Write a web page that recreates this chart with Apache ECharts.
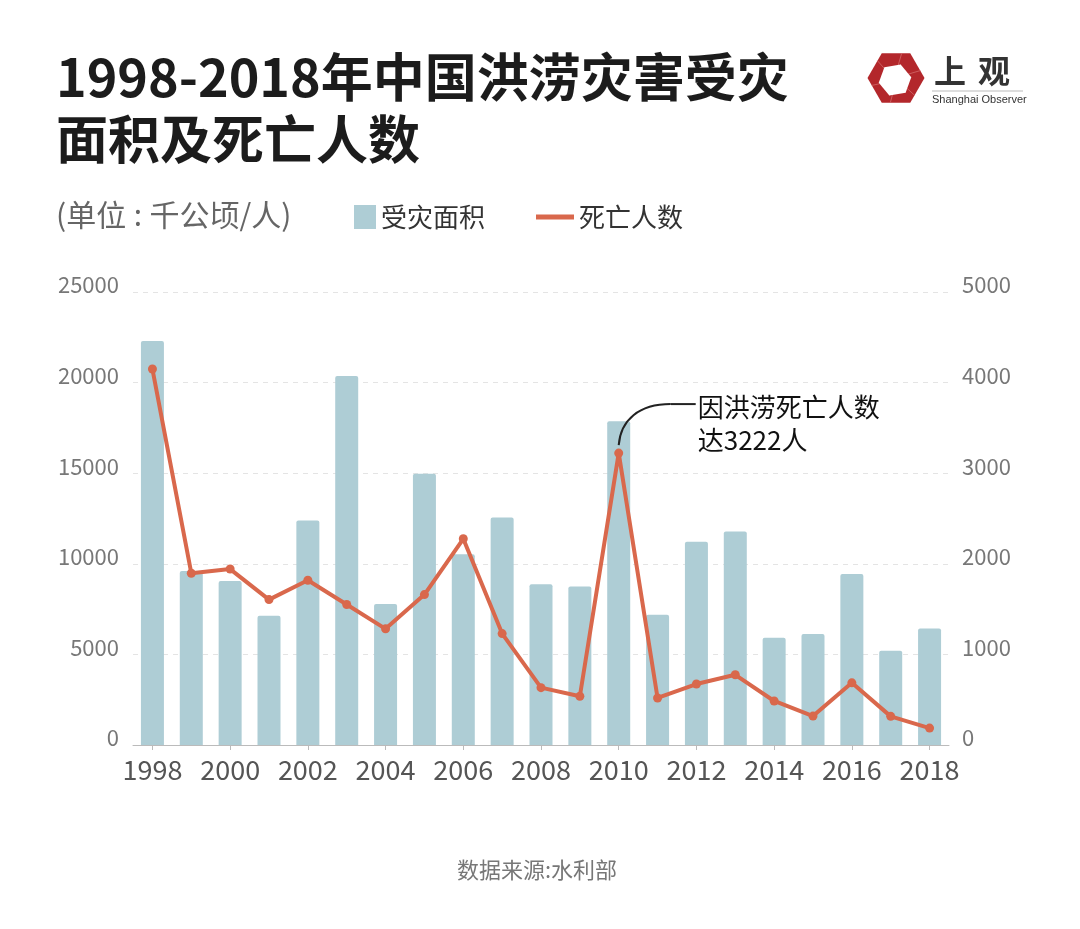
<!DOCTYPE html>
<html><head><meta charset="utf-8">
<script src="https://cdn.jsdelivr.net/npm/echarts@6/dist/echarts.min.js"></script>
<style>html,body{margin:0;padding:0;background:#fff}#c{width:1080px;height:929px}</style>
</head><body><div id="c"></div>
<script>
// ---- data ----
const years = ['1998','1999','2000','2001','2002','2003','2004','2005','2006','2007','2008','2009','2010','2011','2012','2013','2014','2015','2016','2017','2018'];
const affectedArea = [22292,9605,9045,7138,12384,20366,7782,14967,10522,12549,8867,8748,17867,7192,11218,11777,5919,6132,9443,5197,6427];
const deaths = [4150,1896,1942,1605,1819,1551,1282,1660,2276,1230,633,538,3222,519,673,775,486,319,686,316,187];
const areaTicks = [0,5000,10000,15000,20000,25000];
const deathTicks = [0,1000,2000,3000,4000,5000];
const titleText = '1998-2018年中国洪涝灾害受灾\n面积及死亡人数';
const unitText = '(单位\u2005:\u2005千公顷/人)';
const seriesNames = ['受灾面积','死亡人数'];
const noteText = '因洪涝死亡人数\n达3222人';
const noteYear = '2010';
const sourceText = '数据来源:水利部';

const FONT = '"Noto Sans CJK SC","Noto Sans",sans-serif';
const BAR = '#aecdd5';
const RED = '#d9684c';

const chart = echarts.init(document.getElementById('c'), null, {renderer:'canvas'});
chart.setOption({
  backgroundColor:'#fff',
  animation:false,
  textStyle:{fontFamily:FONT},
  title:{
    text:titleText, left:56, top:46, padding:0,
    textStyle:{fontSize:52, fontWeight:'bold', color:'#1c1c1c', lineHeight:62, fontFamily:FONT}
  },
  legend:[
    {data:[{name:seriesNames[0], icon:'rect'}], left:354, top:204, padding:0, itemWidth:22, itemHeight:24, itemGap:0,
     textStyle:{fontSize:26, color:'#333', fontFamily:FONT}, selectedMode:false},
    {data:[{name:seriesNames[1], icon:'rect'}], left:536, top:204, padding:0, itemWidth:38, itemHeight:5, itemGap:0,
     textStyle:{fontSize:26, color:'#333', fontFamily:FONT}, selectedMode:false}
  ],
  grid:{left:133, right:131, top:292, bottom:184, containLabel:false},
  xAxis:{
    type:'category', data:years, boundaryGap:true,
    axisLine:{lineStyle:{color:'#bbb', width:1}},
    axisTick:{show:true, alignWithLabel:true, interval:1, length:5, lineStyle:{color:'#bbb'}},
    axisLabel:{interval:1, fontSize:27, color:'#555', margin:11, fontFamily:FONT}
  },
  yAxis:[
    {type:'value', min:areaTicks[0], max:areaTicks[areaTicks.length-1], interval:areaTicks[1]-areaTicks[0],
     axisLine:{show:false}, axisTick:{show:false},
     axisLabel:{fontSize:22, color:'#777', margin:14, verticalAlign:'bottom', lineHeight:14, formatter:v=>String(v), fontFamily:FONT},
     splitLine:{show:true, lineStyle:{color:'#e4e4e4', type:[5,5], width:1}}},
    {type:'value', min:deathTicks[0], max:deathTicks[deathTicks.length-1], interval:deathTicks[1]-deathTicks[0],
     axisLine:{show:false}, axisTick:{show:false},
     axisLabel:{fontSize:22, color:'#777', margin:13, verticalAlign:'bottom', lineHeight:14, formatter:v=>String(v), fontFamily:FONT},
     splitLine:{show:false}}
  ],
  series:[
    {name:seriesNames[0], type:'bar', data:affectedArea, barWidth:23, yAxisIndex:0,
     itemStyle:{color:BAR, borderRadius:[2,2,0,0]}},
    {name:seriesNames[1], type:'line', data:deaths, yAxisIndex:1, z:5,
     symbol:'circle', symbolSize:9, lineStyle:{color:RED, width:4}, itemStyle:{color:RED}}
  ]
});

const p = chart.convertToPixel({xAxisIndex:0, yAxisIndex:1}, [noteYear, deaths[years.indexOf(noteYear)]]);
const px = p[0], py = p[1];

// logo geometry
const lc = [896, 78], R = 28.5, r = 16.5;
const outer = [], inner = [];
for (let i=0;i<6;i++){ const a = Math.PI/3*i; outer.push([lc[0]+R*Math.cos(a), lc[1]+R*Math.sin(a)]); }
for (let i=0;i<6;i++){ const a = Math.PI/3*i - Math.PI/2 + 0.35; inner.push([lc[0]-1+r*Math.cos(a), lc[1]+2+r*Math.sin(a)]); }
const blades = inner.map((v,i)=>{
  const a = outer[(i+1)%6], b = outer[(i+2)%6];
  const o = [(a[0]*0.3+b[0]*0.7),(a[1]*0.3+b[1]*0.7)];
  return {type:'line', shape:{x1:v[0], y1:v[1], x2:o[0], y2:o[1]}, style:{stroke:'#d26a6a', lineWidth:0.8}, z:101};
});

chart.setOption({
  graphic:[
    {type:'text', style:{text:unitText, x:56, y:215, font:'30px '+FONT, fill:'#666', verticalAlign:'middle'}},
    {type:'text', style:{text:sourceText, x:537, y:870, font:'22px '+FONT, fill:'#777', align:'center', verticalAlign:'middle'}},
    // annotation
    {type:'bezierCurve', shape:{x1:px, y1:py-8, cpx1:px+2, cpy1:py-33, cpx2:px+20, cpy2:py-49, x2:px+52, y2:py-49},
     style:{stroke:'#222', lineWidth:2, fill:null}, z:100},
    {type:'line', shape:{x1:px+52, y1:py-49, x2:px+77, y2:py-49}, style:{stroke:'#222', lineWidth:2}, z:100},
    {type:'text', style:{text:noteText, x:px+79, y:py-62, font:'26px '+FONT, fill:'#111', lineHeight:33, verticalAlign:'top'}, z:100},
    // logo
    {type:'polygon', shape:{points:outer}, style:{fill:'#b3272b'}, z:100},
    ...blades,
    {type:'polygon', shape:{points:inner}, style:{fill:'#fff'}, z:102},
    {type:'text', style:{text:'上', x:934, y:71, font:'bold 32px '+FONT, fill:'#333', verticalAlign:'middle'}},
    {type:'text', style:{text:'观', x:978, y:71, font:'bold 32px '+FONT, fill:'#333', verticalAlign:'middle'}},
    {type:'line', shape:{x1:932, y1:91, x2:1023, y2:91}, style:{stroke:'#bbb', lineWidth:1}},
    {type:'text', style:{text:'Shanghai Observer', x:932, y:100, font:'11px Arial, "Liberation Sans", sans-serif', fill:'#333', verticalAlign:'middle'}}
  ]
});
</script></body></html>
